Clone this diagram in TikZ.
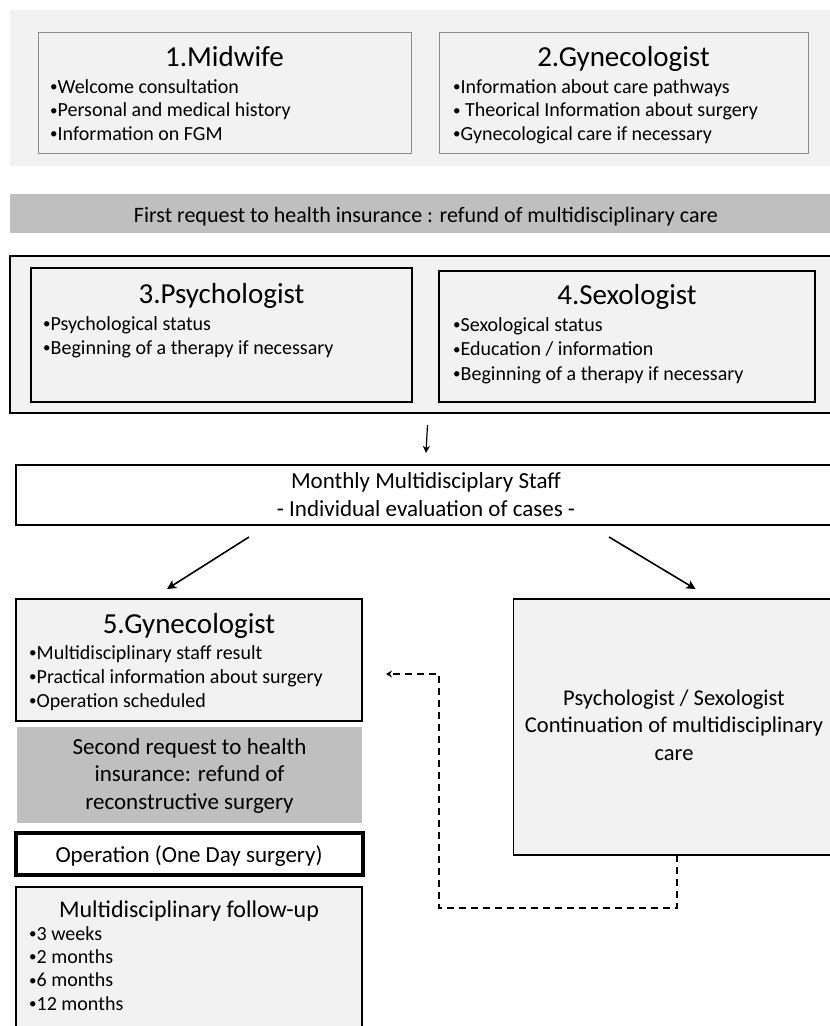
\documentclass[tikz,border=0pt]{standalone}
\usepackage{fontspec}
\setmainfont{Carlito}
\usepackage{tikz}
\usetikzlibrary{arrows.meta}

\definecolor{panelgray}{HTML}{F2F2F2}
\definecolor{bargray}{HTML}{BFBFBF}
\definecolor{edgegray}{HTML}{8C8C8C}

\newcommand{\dotmark}{\raisebox{1.5pt}{\fontsize{15}{15}\selectfont•}}

\tikzset{
  panel/.style={fill=panelgray, anchor=north west, inner sep=0pt, outer sep=0pt},
  bar/.style={fill=bargray, anchor=north west, inner sep=0pt, outer sep=0pt},
  softbox/.style={panel, draw=edgegray, line width=1pt},
  box/.style={panel, draw=black, line width=1.4pt},
  whitebox/.style={box, fill=white},
  head/.style={font=\fontsize{29}{35}\selectfont, anchor=base, inner sep=0pt},
  item/.style={font=\fontsize{20}{24}\selectfont, anchor=base west, inner sep=0pt},
  plain/.style={font=\fontsize{23}{28}\selectfont, anchor=base, inner sep=0pt},
  arr/.style={line width=1.6pt, -{Stealth[length=9pt,width=9pt,inset=2pt]}},
  downarr/.style={line width=1.2pt, -{Stealth[length=7pt,width=7pt,inset=2pt]}},
  dasharr/.style={line width=1.8pt, dash pattern=on 7pt off 5pt, -{Stealth[length=6pt,width=7pt]}}
}

\begin{document}
\begin{tikzpicture}[x=1pt, y=-1pt]
\useasboundingbox (0,0) rectangle (830,1026);
\clip (0,0) rectangle (830,1026);

\node[panel, minimum width=836pt, minimum height=156pt] (toppanel) at (9.5,10) {};
\node[softbox, minimum width=373pt, minimum height=121pt] (midwife) at (38,32) {};
\node[softbox, minimum width=369pt, minimum height=121pt] (gyneA) at (439,32) {};
\node[head] (midwifehead) at (224.5,66) {1.Midwife};
\node[head] (gyneAhead) at (623.5,66) {2.Gynecologist};
\foreach \t [count=\i] in {Welcome consultation, Personal and medical history, Information on FGM}
  \node[item] (midwife\i) at (50,{93+23.5*(\i-1)}) {\dotmark\t};
\foreach \t [count=\i] in {Information about care pathways, \ Theorical Information about surgery, Gynecological care if necessary}
  \node[item] (gyneA\i) at (453,{93+23.5*(\i-1)}) {\dotmark\t};

\node[bar, minimum width=836pt, minimum height=39pt] (firstbar) at (9.5,194) {};
\node[plain, font=\fontsize{22}{27}\selectfont] (firsttext) at (426,222) {First request to health insurance : refund of multidisciplinary care};

\node[box, line width=2.4pt, minimum width=835pt, minimum height=157pt] (outer) at (10,256) {};
\node[box, minimum width=381pt, minimum height=134pt] (psycho) at (31,268) {};
\node[box, minimum width=376pt, minimum height=131pt] (sexo) at (439,271) {};
\node[head] (psychohead) at (221.5,303) {3.Psychologist};
\node[head] (sexohead) at (627,304) {4.Sexologist};
\foreach \t [count=\i] in {Psychological status, Beginning of a therapy if necessary}
  \node[item] (psycho\i) at (43,{330+24*(\i-1)}) {\dotmark\t};
\foreach \t [count=\i] in {Sexological status, Education / information, Beginning of a therapy if necessary}
  \node[item] (sexo\i) at (453,{331+24.5*(\i-1)}) {\dotmark\t};

\node[whitebox, minimum width=820pt, minimum height=60pt] (staff) at (16,465) {};
\node[plain] (staff1) at (426,488) {Monthly Multidisciplary Staff};
\node[plain] (staff2) at (426,516) {- Individual evaluation of cases -};
\draw[downarr] ([yshift=-12pt]outer.south) -- ([yshift=12pt]staff.north);

\node[box, minimum width=346pt, minimum height=122pt] (gyneB) at (16,599) {};
\node[head] (gyneBhead) at (189,633) {5.Gynecologist};
\foreach \t [count=\i] in {Multidisciplinary staff result, Practical information about surgery, Operation scheduled}
  \node[item] (gyneB\i) at (29,{659+24*(\i-1)}) {\dotmark\t};

\node[bar, minimum width=345pt, minimum height=96pt] (secondbar) at (17,727) {};
\foreach \t [count=\i] in {Second request to health, insurance: refund of, reconstructive surgery}
  \node[plain] (second\i) at (189.5,{754+27.5*(\i-1)}) {\t};

\node[whitebox, line width=3.4pt, minimum width=347pt, minimum height=42pt] (operation) at (16,833) {};
\node[plain] (operationtext) at (189,862) {Operation (One Day surgery)};

\node[box, minimum width=346pt, minimum height=160pt] (followup) at (16,887) {};
\node[plain, font=\fontsize{24}{29}\selectfont] (followuphead) at (189,917) {Multidisciplinary follow-up};
\foreach \t [count=\i] in {3 weeks, 2 months, 6 months, 12 months}
  \node[item] (followup\i) at (29,{940+23.4*(\i-1)}) {\dotmark\t};

\node[box, minimum width=321pt, minimum height=256pt] (continued) at (513.5,599) {};
\foreach \t [count=\i] in {Psychologist / Sexologist, Continuation of multidisciplinary, care}
  \node[plain, font=\fontsize{22.5}{27}\selectfont] (continued\i) at (674,{705+27.5*(\i-1)}) {\t};

\draw[arr] ([shift={(233,12)}]staff.south west) -- ([shift={(151,-10)}]gyneB.north west);
\draw[arr] ([shift={(593,12)}]staff.south west) -- ([shift={(182,-10)}]continued.north west);
\draw[dasharr] ([xshift=3pt]continued.south) |- (439,908) -- (439,674) -- ([shift={(24,14)}]gyneB.east);
\end{tikzpicture}
\end{document}
